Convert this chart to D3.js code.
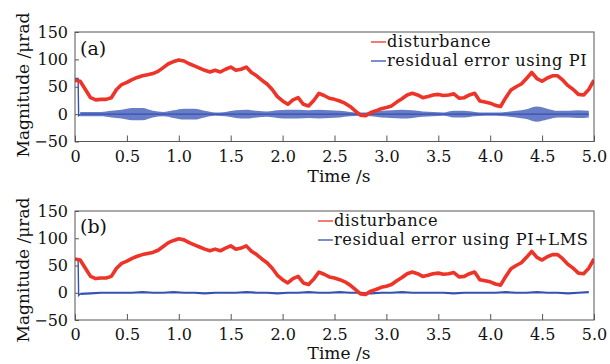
<!DOCTYPE html>
<html><head><meta charset="utf-8">
<script src="https://cdn.jsdelivr.net/npm/d3@7"></script>
<style>body{margin:0;background:#fff}text{font-family:"DejaVu Serif",serif;fill:#111}</style>
</head><body><svg id="c" width="610" height="364"></svg>
<script>
// ---------- data ----------
const xTicks = [0, 0.5, 1.0, 1.5, 2.0, 2.5, 3.0, 3.5, 4.0, 4.5, 5.0];
const yTicks = [-50, 0, 50, 100, 150];

// disturbance, sampled every 0.05 s from 0 to 5.0 s (µrad)
const disturbance = [
  62, 60, 45, 30, 26, 27, 27, 30, 45, 54,
  58, 63, 67, 70, 72, 74, 78, 85, 92, 96,
  99, 97, 92, 88, 84, 80, 77, 80, 77, 82,
  86, 80, 82, 86, 76, 70, 62, 55, 45, 32,
  24, 18, 26, 30, 18, 15, 25, 38, 34, 29,
  27, 24, 20, 14, 6, -2, -3, 3, 6, 10,
  12, 15, 22, 28, 35, 38, 35, 30, 32, 35,
  36, 34, 35, 37, 29, 30, 35, 38, 24, 22,
  20, 16, 14, 30, 44, 50, 55, 65, 76, 65,
  60, 66, 70, 70, 62, 52, 45, 36, 35, 45,
  62
];

// initial transient of the residual error (time s, value µrad)
const startT = [0, 0.03, 0.035, 0.05];
const startPI = [65, 65, -3, -1];
const startLMS = [62, 62, -5, -2];

// residual error using PI: oscillation envelope (± amplitude), every 0.1 s from 0.05 s
const ampPI = [
  4, 4, 4, 6, 8, 11, 11, 6, 4, 7,
  10, 10, 6, 3, 4, 7, 8, 6, 5, 7,
  8, 8, 7, 8, 7, 6, 4, 3, 4, 6,
  7, 8, 7, 5, 4, 3, 6, 6, 4, 3,
  3, 4, 6, 9, 14, 10, 6, 6, 7, 6
];
// residual error using PI+LMS, every 0.1 s from 0.05 s
const residLMS = [
  -2, -1, 0, 0, 0, 0, 1, 0, 0, 1,
  0, 0, -1, 0, 0, 0, 1, 0, 0, -1,
  0, 0, 1, 0, 0, 1, 0, 0, -1, 0,
  0, 1, 0, 0, 0, 0, -1, 0, 0, 0,
  0, 1, 0, 0, 1, 0, 0, -1, 0, 1
];

const distT = disturbance.map((_, i) => i * 0.05);
const residT = ampPI.map((_, i) => 0.05 + i * 0.1);

const RED = "#ee3429", BLUE = "#3551b3";

const panels = [
  {label: "(a)", top: 32, bottom: 141.5, labelY: 55, leg2: "residual error using PI",
   legX: 387, legY1: 47, legY2: 66, lineX: [371, 386], ylabCY: 85, xTitleY: 182, kind: "PI"},
  {label: "(b)", top: 211, bottom: 320, labelY: 233, leg2: "residual error using PI+LMS",
   legX: 334, legY1: 226, legY2: 245, lineX: [318, 333], ylabCY: 270, xTitleY: 359, kind: "LMS"}
];

const svg = d3.select("#c");
const left = 75, right = 594;
const x = d3.scaleLinear().domain([0, 5]).range([left, right]);

panels.forEach((p, k) => {
  const y = d3.scaleLinear().domain([-50, 150]).range([p.bottom, p.top]);
  const g = svg.append("g");
  const clipId = "clip" + k;
  svg.append("clipPath").attr("id", clipId).append("rect")
    .attr("x", left).attr("y", p.top).attr("width", right - left).attr("height", p.bottom - p.top);

  const plot = g.append("g").attr("clip-path", `url(#${clipId})`);

  // residual
  if (p.kind === "PI") {
    const area = d3.area().x(d => x(d.t)).y0(d => y(-d.a)).y1(d => y(d.a)).curve(d3.curveMonotoneX);
    plot.append("path").datum(residT.map((t, i) => ({t, a: ampPI[i]})))
      .attr("d", area).attr("fill", BLUE).attr("fill-opacity", 0.75);
    plot.append("path").datum(residT.map(t => ({t, v: 0})))
      .attr("d", d3.line().x(d => x(d.t)).y(d => y(d.v)))
      .attr("fill", "none").attr("stroke", BLUE).attr("stroke-width", 1.4);
  } else {
    plot.append("path").datum(residT.map((t, i) => ({t, v: residLMS[i]})))
      .attr("d", d3.line().x(d => x(d.t)).y(d => y(d.v)))
      .attr("fill", "none").attr("stroke", BLUE).attr("stroke-width", 2.2);
  }
  const sv = p.kind === "PI" ? startPI : startLMS;
  plot.append("path").datum(startT.map((t, i) => ({t, v: sv[i]})))
    .attr("d", d3.line().x(d => x(d.t)).y(d => y(d.v)))
    .attr("fill", "none").attr("stroke", BLUE).attr("stroke-width", 1.4);

  // disturbance
  plot.append("path").datum(distT.map((t, i) => ({t, v: disturbance[i]})))
    .attr("d", d3.line().x(d => x(d.t)).y(d => y(d.v)))
    .attr("fill", "none").attr("stroke", RED).attr("stroke-width", 3.6)
    .attr("stroke-linejoin", "round");

  // frame
  g.append("rect").attr("x", left).attr("y", p.top).attr("width", right - left)
    .attr("height", p.bottom - p.top).attr("fill", "none").attr("stroke", "#555").attr("stroke-width", 1);

  // axes
  const xa = g.append("g").attr("transform", `translate(0,${p.bottom})`)
    .call(d3.axisBottom(x).tickValues(xTicks).tickSizeInner(-6).tickSizeOuter(0).tickPadding(9)
      .tickFormat(d => d === 0 ? "0" : d3.format(".1f")(d)));
  const ya = g.append("g").attr("transform", `translate(${left},0)`)
    .call(d3.axisLeft(y).tickValues(yTicks).tickSizeInner(-4).tickSizeOuter(0).tickPadding(7)
      .tickFormat(d => d < 0 ? "\u2212" + Math.abs(d) : String(d)));
  [xa, ya].forEach(a => {
    a.select(".domain").remove();
    a.selectAll("line").attr("stroke", "#555");
    a.selectAll("text").style("font-family", '"DejaVu Serif", serif').style("font-size", "16px").attr("fill", "#111");
  });

  // titles
  g.append("text").attr("x", 339).attr("y", p.xTitleY).attr("text-anchor", "middle")
    .style("font-size", "17px").text("Time /s");
  g.append("text").attr("transform", `translate(29,${p.ylabCY}) rotate(-90)`).attr("text-anchor", "middle")
    .style("font-size", "17px").text("Magnitude /\u03bcrad");
  g.append("text").attr("x", 80).attr("y", p.labelY).style("font-size", "19px").text(p.label);

  // legend
  const leg = [{c: RED, t: "disturbance", y: p.legY1}, {c: BLUE, t: p.leg2, y: p.legY2}];
  leg.forEach(l => {
    g.append("line").attr("x1", p.lineX[0]).attr("x2", p.lineX[1]).attr("y1", l.y - 5).attr("y2", l.y - 5)
      .attr("stroke", l.c).attr("stroke-width", 1.3);
    g.append("text").attr("x", p.legX).attr("y", l.y).style("font-size", "16.2px")
      .style("letter-spacing", "0.6px").text(l.t);
  });
});
</script></body></html>
